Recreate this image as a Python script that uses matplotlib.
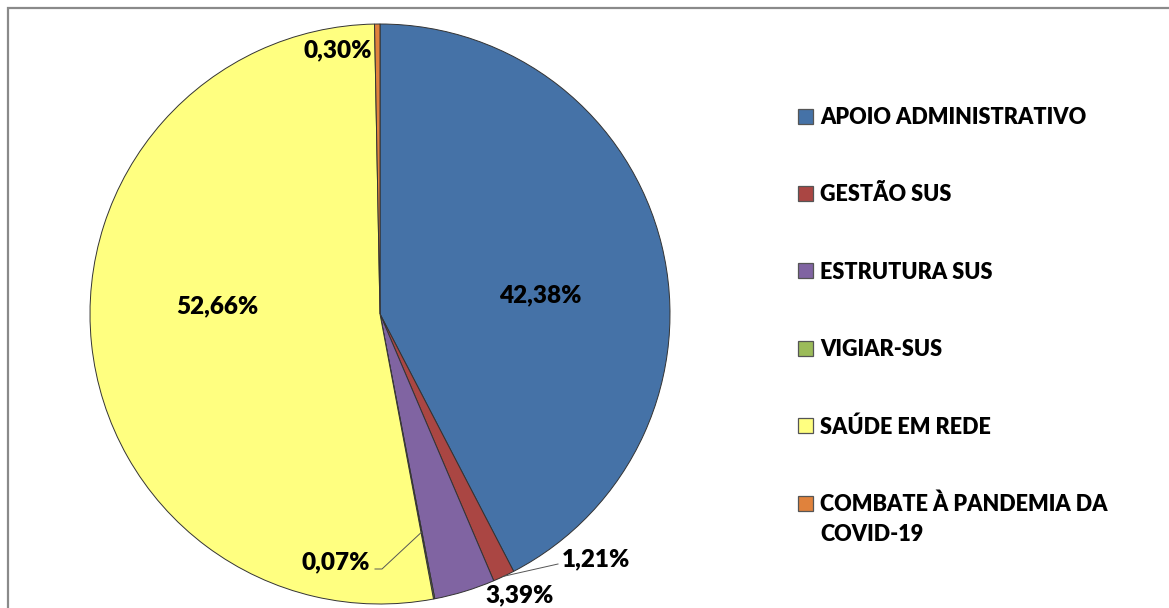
import numpy as np
import matplotlib
matplotlib.use("Agg")
import matplotlib.pyplot as plt
from matplotlib.patches import Rectangle

plt.rcParams["font.family"] = ["Lato", "DejaVu Sans"]

categories = [
    "APOIO ADMINISTRATIVO",
    "GESTÃO SUS",
    "ESTRUTURA SUS",
    "VIGIAR-SUS",
    "SAÚDE EM REDE",
    "COMBATE À PANDEMIA DA\nCOVID-19",
]
shares = [42.38, 1.21, 3.39, 0.07, 52.66, 0.30]
pct_labels = ["42,38%", "1,21%", "3,39%", "0,07%", "52,66%", "0,30%"]
colors = ["#4572A7", "#AA4643", "#8064A2", "#9BBB59", "#FFFF80", "#E0823C"]

W, H = 1169, 608
cx, cy, R = 380, H - 314, 290

# label layout in pixels from the top-left: (x, baseline y, ha, leader radius)
label_layout = [
    (540, 302, "center", None),
    (562, 566, "left", 1.0),
    (520, 602, "center", None),
    (370, 569, "right", 0.766),
    (217, 313, "center", None),
    (338, 57, "center", None),
]

fig = plt.figure(figsize=(W / 100, H / 100), dpi=100)
ax = fig.add_axes([0, 0, 1, 1])
wedges, _ = ax.pie(
    shares,
    colors=colors,
    startangle=90,
    counterclock=False,
    center=(cx, cy),
    radius=R,
    frame=True,
    wedgeprops=dict(edgecolor="#333333", linewidth=0.7),
)
ax.set_xlim(0, W)
ax.set_ylim(0, H)
ax.set_aspect("equal")
ax.axis("off")

# chart frame, only its top and left edges fall inside the picture
ax.add_patch(Rectangle((7.5, -20), W + 40, H - 7.5 + 20, fill=False,
                       edgecolor="#8a8a8a", linewidth=1.6, zorder=0))

for w, txt, (lx, ly, ha, lead) in zip(wedges, pct_labels, label_layout):
    ty = H - ly
    ax.text(lx, ty, txt, ha=ha, va="baseline", fontsize=17.5,
            fontweight="heavy", color="black")
    if lead is None:
        continue
    ang = np.deg2rad((w.theta1 + w.theta2) / 2)
    px = cx + lead * R * np.cos(ang)
    py = cy + lead * R * np.sin(ang)
    if ha == "right":
        xs = [px, lx + 12, lx + 5]
        ys = [py, ty, ty]
    else:
        xs = [px, lx - 4]
        ys = [py, ty + 2]
    ax.plot(xs, ys, color="#555555", linewidth=0.7)

# legend drawn by hand so the square sits on the first line of a wrapped label
leg_x, leg_top, leg_pitch, box, line_px = 798, 116, 77.4, 15, 30
for i, (w, name) in enumerate(zip(wedges, categories)):
    yc = H - (leg_top + i * leg_pitch)
    ax.add_patch(Rectangle((leg_x, yc - box / 2), box, box,
                           facecolor=w.get_facecolor(), edgecolor="#555555",
                           linewidth=0.9))
    for k, line in enumerate(name.split("\n")):
        ax.text(leg_x + box + 7, yc - 8 - k * line_px, line, ha="left",
                va="baseline", fontsize=15.6, fontweight="heavy")

fig.savefig("out.png", dpi=100)
